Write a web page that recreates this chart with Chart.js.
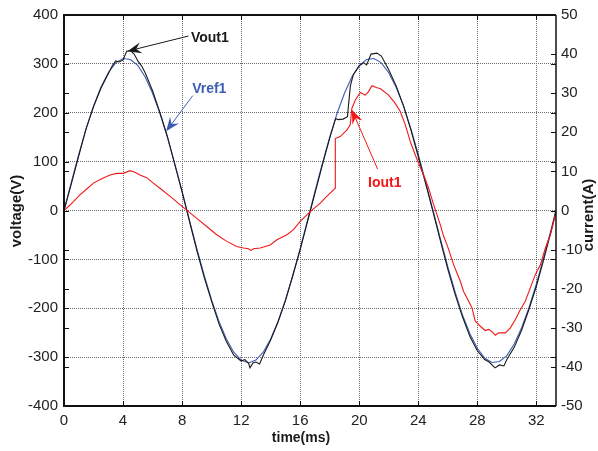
<!DOCTYPE html>
<html>
<head>
<meta charset="utf-8">
<script src="https://cdn.jsdelivr.net/npm/chart.js@4.4.0/dist/chart.umd.min.js"></script>
<style>
  html, body { margin: 0; padding: 0; background: #fff; }
</style>
</head>
<body>
<canvas id="canvas" width="598" height="451"></canvas>
<script>
// tick labels
const xTicks = [0, 4, 8, 12, 16, 20, 24, 28, 32];
const vTicks = [-400, -300, -200, -100, 0, 100, 200, 300, 400];
const iTicks = [-50, -40, -30, -20, -10, 0, 10, 20, 30, 40, 50];

// Vref1 (V) vs time (ms)
const tVref = [0, 0.5, 1, 1.5, 2, 2.5, 3, 3.5, 4, 4.5, 5, 5.5, 6, 6.5, 7, 7.5, 8, 8.5, 9, 9.5, 10, 10.5, 11, 11.5, 12, 12.5, 13, 13.5, 14, 14.5, 15, 15.5, 16, 16.5,
  17, 17.5, 18, 18.5, 19, 19.5, 20, 20.5, 21, 21.5, 22, 22.5, 23, 23.5, 24, 24.5, 25, 25.5, 26, 26.5, 27, 27.5, 28, 28.5, 29, 29.5, 30, 30.5, 31, 31.5, 32, 32.5, 33, 33.33];
const vref = [0, 58, 115, 167, 214, 252, 282, 302, 311, 309, 297, 273, 240, 199, 150, 96, 39, -20, -78, -133, -183, -227, -263, -290, -306, -312, -306, -290, -263, -227, -183, -133, -78, -20,
  39, 96, 150, 199, 240, 273, 297, 309, 311, 302, 282, 252, 214, 167, 115, 58, 0, -58, -115, -167, -214, -252, -282, -302, -311, -309, -297, -273, -240, -199, -150, -96, -39, 0];

// Vout1 (V)
const tVout = [0, 0.5, 1, 1.5, 2, 2.5, 3, 3.25, 3.5, 3.75, 4, 4.25, 4.5, 4.75, 5, 5.25, 5.5, 6, 6.5, 7, 7.5, 8, 8.5, 9, 9.5, 10, 10.5, 11, 11.5, 12,
  12.25, 12.5, 12.6, 12.8, 13, 13.25, 13.5, 14, 14.5, 15, 15.5, 16, 16.5, 17, 17.5, 18, 18.4, 18.6, 18.9, 19.2, 19.4, 19.6, 20, 20.3, 20.5, 20.8, 21.2, 21.5,
  22, 22.5, 23, 23.5, 24, 24.5, 25, 25.5, 26, 26.5, 27, 27.5, 28, 28.5, 28.8, 29.2, 29.5, 29.8, 30, 30.5, 31, 31.5, 32, 32.5, 33, 33.33];
const vout = [0, 55, 112, 168, 212, 250, 280, 295, 306, 304, 308, 326, 327, 320, 306, 296, 282, 245, 200, 152, 95, 38, -22, -82, -137, -186, -232, -268, -296, -308,
  -305, -312, -322, -312, -310, -314, -296, -265, -228, -185, -133, -80, -22, 35, 93, 148, 188, 186, 187, 192, 255, 278, 296, 302, 298, 320, 322, 316,
  288, 255, 214, 165, 110, 55, -3, -62, -120, -172, -218, -258, -287, -305, -310, -322, -316, -318, -305, -280, -245, -202, -155, -100, -42, 0];

// Iout1 (A)
const tIout = [0.07, 0.41, 0.75, 1.08, 1.54, 1.99, 2.55, 3.12, 3.57, 4.02, 4.47, 4.81, 5.15, 5.6, 6.05, 6.5, 7.19, 7.86, 8.43, 9.0,
  9.67, 10.35, 11.03, 11.7, 12.16, 12.5, 12.66, 12.83, 13.29, 13.97, 14.42, 15.1, 15.55, 16.0, 16.68, 17.36, 17.8, 18.26, 18.37, 18.38,
  18.71, 19.17, 19.39, 19.5, 19.73, 20.07, 20.41, 20.63, 20.86, 21.2, 21.42, 21.99, 22.44, 22.78, 23.12, 23.46, 23.8, 24.02, 24.36, 24.7,
  25.04, 25.27, 25.49, 25.72, 25.95, 26.17, 26.4, 26.62, 26.85, 27.07, 27.3, 27.64, 27.86, 28.2, 28.54, 28.77, 29.0, 29.22, 29.44, 29.9,
  30.24, 30.58, 30.92, 31.25, 31.59, 31.93, 32.27, 32.61, 32.95, 33.29];
const iout = [0.2, 1.4, 2.7, 4.0, 5.5, 7.0, 8.1, 9.1, 9.5, 9.5, 10.2, 9.8, 9.1, 8.4, 7.0, 5.7, 3.6, 1.5, -0.3, -2.0,
  -4.1, -6.2, -7.9, -9.2, -9.6, -9.8, -10.2, -9.8, -9.6, -8.8, -7.5, -6.2, -4.9, -2.8, -0.3, 1.9, 3.6, 5.3, 5.7, 18.4,
  18.9, 20.6, 21.9, 26.1, 28.2, 30.2, 29.5, 30.4, 31.9, 31.4, 31.2, 29.5, 27.4, 25.3, 21.9, 17.6, 14.2, 12.1, 9.1, 5.7,
  1.5, -1.1, -3.6, -6.6, -8.8, -11.3, -13.9, -16.0, -18.1, -20.7, -22.4, -24.9, -28.3, -29.6, -30.7, -30.4, -31.0, -31.9, -31.3, -31.3,
  -30.0, -27.9, -25.3, -23.2, -19.8, -16.4, -13.9, -9.6, -6.2, -1.1];

const pts = (ts, vs) => ts.map((t, i) => ({ x: t, y: vs[i] }));
const FONT = "'Liberation Sans', Arial, Helvetica, sans-serif";

// text callouts with arrows, placed in data units (time, voltage)
const callouts = [
  { text: 'Vout1', color: '#1a1a1a', tx: 8.6, ty: 352, x0: 8.43, y0: 357, x1: 4.3, y1: 326 },
  { text: 'Vref1', color: '#3d5db5', tx: 8.68, ty: 249, x0: 8.72, y0: 235, x1: 6.92, y1: 162 },
  { text: 'Iout1', color: '#f01818', tx: 20.6, ty: 57, x0: 21.24, y0: 85, x1: 19.5, y1: 206 },
];

function arrow(ctx, x0, y0, x1, y1, color) {
  const a = Math.atan2(y1 - y0, x1 - x0);
  const L = 14, W = 5.5, B = 9;
  ctx.save();
  ctx.strokeStyle = color;
  ctx.fillStyle = color;
  ctx.lineWidth = 1;
  ctx.beginPath();
  ctx.moveTo(x0, y0);
  ctx.lineTo(x1 - Math.cos(a) * B, y1 - Math.sin(a) * B);
  ctx.stroke();
  ctx.translate(x1, y1);
  ctx.rotate(a);
  ctx.beginPath();
  ctx.moveTo(0, 0);
  ctx.lineTo(-L, -W);
  ctx.lineTo(-B, 0);
  ctx.lineTo(-L, W);
  ctx.closePath();
  ctx.fill();
  ctx.restore();
}

const decor = {
  id: 'decor',
  afterDatasetsDraw(chart) {
    const { ctx, chartArea: ca, scales } = chart;
    const x = scales.x, y = scales.y, y1 = scales.y1;
    ctx.save();
    // inward tick marks
    ctx.strokeStyle = '#111';
    ctx.lineWidth = 1;
    ctx.beginPath();
    iTicks.forEach(v => {
      const py = Math.round(y1.getPixelForValue(v)) + 0.5;
      ctx.moveTo(ca.left, py); ctx.lineTo(ca.left + 5, py);
      ctx.moveTo(ca.right - 5, py); ctx.lineTo(ca.right, py);
    });
    vTicks.forEach(v => {
      const py = Math.round(y.getPixelForValue(v)) + 0.5;
      ctx.moveTo(ca.left, py); ctx.lineTo(ca.left + 5, py);
      ctx.moveTo(ca.right - 5, py); ctx.lineTo(ca.right, py);
    });
    xTicks.forEach(v => {
      const px = Math.round(x.getPixelForValue(v)) + 0.5;
      ctx.moveTo(px, ca.bottom); ctx.lineTo(px, ca.bottom - 5);
      ctx.moveTo(px, ca.top); ctx.lineTo(px, ca.top + 5);
    });
    ctx.stroke();

    // frame
    ctx.strokeStyle = '#111';
    ctx.lineWidth = 2;
    ctx.beginPath();
    ctx.moveTo(ca.right, ca.top);
    ctx.lineTo(ca.left, ca.top);
    ctx.lineTo(ca.left, ca.bottom);
    ctx.lineTo(ca.right, ca.bottom);
    ctx.stroke();
    ctx.lineWidth = 1.5;
    ctx.beginPath();
    ctx.moveTo(ca.right, ca.top);
    ctx.lineTo(ca.right, ca.bottom);
    ctx.stroke();

    // callouts
    callouts.forEach(c => {
      arrow(ctx, x.getPixelForValue(c.x0), y.getPixelForValue(c.y0),
        x.getPixelForValue(c.x1), y.getPixelForValue(c.y1), c.color);
      ctx.fillStyle = c.color;
      ctx.font = 'bold 14px ' + FONT;
      ctx.textAlign = 'left';
      ctx.textBaseline = 'middle';
      ctx.fillText(c.text, x.getPixelForValue(c.tx), y.getPixelForValue(c.ty));
    });

    // axis titles
    ctx.fillStyle = '#1a1a1a';
    ctx.textAlign = 'center';
    ctx.textBaseline = 'middle';
    ctx.font = 'bold 14px ' + FONT;
    ctx.fillText('time(ms)', 301, 438);
    ctx.font = 'bold 15px ' + FONT;
    ctx.save();
    ctx.translate(17, 211);
    ctx.rotate(-Math.PI / 2);
    ctx.fillText('voltage(V)', 0, 0);
    ctx.restore();
    ctx.save();
    ctx.translate(589, 215);
    ctx.rotate(-Math.PI / 2);
    ctx.fillText('current(A)', 0, 0);
    ctx.restore();
    ctx.restore();
  }
};

const tickFont = { family: FONT, size: 15 };
const gridOpts = { color: '#6a6a6a', lineWidth: 1, drawTicks: false };

const config = {
  type: 'line',
  data: {
    datasets: [
      { label: 'Iout1', data: pts(tIout, iout), yAxisID: 'y1', borderColor: '#f01818', borderWidth: 1.1 },
      { label: 'Vout1', data: pts(tVout, vout), yAxisID: 'y', borderColor: '#1a1a1a', borderWidth: 1.1 },
      { label: 'Vref1', data: pts(tVref, vref), yAxisID: 'y', borderColor: '#3d5db5', borderWidth: 1.1 },
    ],
  },
  options: {
    responsive: false,
    animation: false,
    events: [],
    elements: { point: { radius: 0 }, line: { tension: 0 } },
    layout: { padding: { top: 12, left: 0, right: 0, bottom: 0 } },
    plugins: { legend: { display: false }, tooltip: { enabled: false } },
    scales: {
      x: {
        type: 'linear', min: 0, max: 33.33,
        afterBuildTicks: s => { s.ticks = xTicks.map(v => ({ value: v })); },
        afterFit: s => { s.height = 45; },
        grid: gridOpts,
        border: { display: false, dash: [1, 1] },
        ticks: { font: tickFont, color: '#222', padding: 6, maxRotation: 0 },
      },
      y: {
        type: 'linear', position: 'left', min: -400, max: 400,
        afterBuildTicks: s => { s.ticks = vTicks.map(v => ({ value: v })); },
        afterFit: s => { s.width = 64; },
        grid: gridOpts,
        border: { display: false, dash: [1, 1] },
        ticks: { font: tickFont, color: '#222', padding: 6 },
      },
      y1: {
        type: 'linear', position: 'right', min: -50, max: 50,
        afterBuildTicks: s => { s.ticks = iTicks.map(v => ({ value: v })); },
        afterFit: s => { s.width = 42; },
        grid: { display: false, drawTicks: false },
        border: { display: false },
        ticks: { font: tickFont, color: '#222', padding: 5 },
      },
    },
  },
  plugins: [decor],
};

const canvas = document.getElementById('canvas');
const chart = new Chart(canvas, config);
</script>
</body>
</html>
